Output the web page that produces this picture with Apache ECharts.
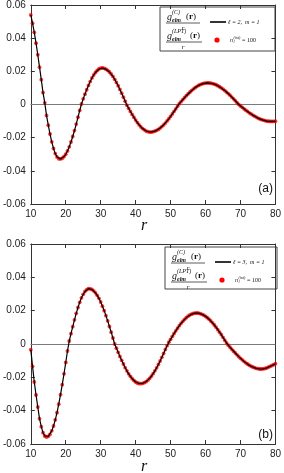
<!DOCTYPE html>
<html><head><meta charset="utf-8">
<script src="https://cdn.jsdelivr.net/npm/echarts@6/dist/echarts.min.js"></script>
<style>html,body{margin:0;padding:0;background:#fff}#c{width:284px;height:473px}</style>
</head><body><div id="c"></div>
<script>
const rValues = [10,10.5,11,11.5,12,12.5,13,13.5,14,14.5,15,15.5,16,16.5,17,17.5,18,18.5,19,19.5,20,20.5,21,21.5,22,22.5,23,23.5,24,24.5,25,25.5,26,26.5,27,27.5,28,28.5,29,29.5,30,30.5,31,31.5,32,32.5,33,33.5,34,34.5,35,35.5,36,36.5,37,37.5,38,38.5,39,39.5,40,40.5,41,41.5,42,42.5,43,43.5,44,44.5,45,45.5,46,46.5,47,47.5,48,48.5,49,49.5,50,50.5,51,51.5,52,52.5,53,53.5,54,54.5,55,55.5,56,56.5,57,57.5,58,58.5,59,59.5,60,60.5,61,61.5,62,62.5,63,63.5,64,64.5,65,65.5,66,66.5,67,67.5,68,68.5,69,69.5,70,70.5,71,71.5,72,72.5,73,73.5,74,74.5,75,75.5,76,76.5,77,77.5,78,78.5,79,79.5,80];

// panel (a): l=2, m=1
const gA = [0.054,0.049,0.0435,0.037,0.030,0.0225,0.0150,0.0072,0.0010,-0.0066,-0.0125,-0.0178,-0.0225,-0.0265,-0.0296,-0.0316,-0.0327,-0.0328,-0.0324,-0.0314,-0.0300,-0.0280,-0.0255,-0.0226,-0.0193,-0.0157,-0.0118,-0.0077,-0.0036,0.0003,0.0034,0.0062,0.0089,0.0115,0.0138,0.0160,0.0178,0.0193,0.0205,0.0214,0.0219,0.0220,0.0218,0.0213,0.0206,0.0196,0.0184,0.0169,0.0152,0.0133,0.0113,0.0091,0.0068,0.0044,0.0020,-0.0004,-0.0023,-0.0042,-0.0060,-0.0077,-0.0094,-0.0109,-0.0123,-0.0135,-0.0145,-0.0153,-0.0160,-0.0164,-0.0166,-0.0166,-0.0164,-0.0161,-0.0156,-0.0150,-0.0142,-0.0133,-0.0123,-0.0112,-0.0099,-0.0086,-0.0072,-0.0057,-0.0041,-0.0026,-0.0010,0.0005,0.0017,0.0029,0.0041,0.0053,0.0064,0.0074,0.0084,0.0093,0.0101,0.0108,0.0115,0.0120,0.0124,0.0127,0.0129,0.0130,0.0130,0.0128,0.0126,0.0123,0.0119,0.0113,0.0107,0.0100,0.0093,0.0084,0.0075,0.0066,0.0056,0.0045,0.0034,0.0023,0.0011,0.0000,-0.0009,-0.0017,-0.0026,-0.0034,-0.0042,-0.0050,-0.0057,-0.0064,-0.0070,-0.0076,-0.0082,-0.0087,-0.0091,-0.0094,-0.0097,-0.0100,-0.0101,-0.0102,-0.0102,-0.0102,-0.0101];

// panel (b): l=3, m=1
const gB = [-0.0034,-0.0134,-0.0228,-0.0306,-0.0378,-0.0448,-0.0496,-0.0532,-0.0552,-0.0558,-0.0554,-0.0542,-0.0521,-0.0492,-0.0455,-0.0412,-0.0361,-0.0304,-0.0244,-0.0179,-0.0111,-0.0042,0.0018,0.0062,0.0104,0.0145,0.0184,0.0219,0.0250,0.0277,0.0298,0.0315,0.0326,0.0332,0.0331,0.0327,0.0319,0.0307,0.0292,0.0274,0.0252,0.0227,0.0200,0.0170,0.0139,0.0105,0.0071,0.0036,0.0000,-0.0025,-0.0050,-0.0075,-0.0098,-0.0120,-0.0142,-0.0161,-0.0179,-0.0194,-0.0208,-0.0219,-0.0228,-0.0234,-0.0237,-0.0238,-0.0236,-0.0232,-0.0226,-0.0217,-0.0206,-0.0193,-0.0178,-0.0161,-0.0143,-0.0123,-0.0102,-0.0080,-0.0057,-0.0033,-0.0010,0.0011,0.0028,0.0046,0.0063,0.0079,0.0095,0.0110,0.0124,0.0136,0.0148,0.0158,0.0167,0.0174,0.0179,0.0183,0.0185,0.0186,0.0185,0.0182,0.0178,0.0173,0.0166,0.0158,0.0149,0.0138,0.0127,0.0114,0.0101,0.0086,0.0071,0.0056,0.0040,0.0023,0.0007,-0.0007,-0.0019,-0.0031,-0.0043,-0.0054,-0.0065,-0.0076,-0.0086,-0.0095,-0.0104,-0.0113,-0.0120,-0.0127,-0.0133,-0.0138,-0.0142,-0.0146,-0.0148,-0.0150,-0.0150,-0.0149,-0.0147,-0.0144,-0.0139,-0.0134,-0.0129,-0.0124,-0.0118];

const xTicks = {min: 10, max: 80, interval: 10};
const yTicks = {min: -0.06, max: 0.06, interval: 0.02};
const panelLabels = ['(a)', '(b)'];
const legendLM = ['ℓ = 2,  m = 1', 'ℓ = 3,  m = 1'];
const legendN = '= 100';
const xName = 'r';

const axisColor = '#333';
const labelFont = {fontFamily: 'Liberation Sans', fontSize: 10, color: '#222'};

function pairs(ys){ return rValues.map((r,i)=>[r, ys[i]]); }

function xAx(gi, pos, show){
  return {type:'value', gridIndex:gi, position:pos, min:xTicks.min, max:xTicks.max, interval:xTicks.interval,
    axisLine:{show:true, onZero:false, lineStyle:{color:axisColor, width:1}},
    axisTick:{show:true, inside:true, length:4, lineStyle:{color:axisColor}},
    axisLabel:{show:show, margin:5, ...labelFont},
    splitLine:{show:false}};
}
function yAx(gi, pos, show){
  return {type:'value', gridIndex:gi, position:pos, min:yTicks.min, max:yTicks.max, interval:yTicks.interval,
    axisLine:{show:true, onZero:false, lineStyle:{color:axisColor, width:1}},
    axisTick:{show:true, inside:true, length:4, lineStyle:{color:axisColor}},
    axisLabel:{show:show, margin:5, ...labelFont,
      formatter: v => Math.abs(v) < 1e-9 ? '0' : v.toFixed(2)},
    splitLine:{show:false}};
}

function seriesFor(gi, ys){
  return [
    {type:'scatter', xAxisIndex:gi*2, yAxisIndex:gi*2, data:pairs(ys), symbol:'circle', symbolSize:3.8,
      itemStyle:{color:'#ff0000'}, z:2, silent:true},
    {type:'line', xAxisIndex:gi*2, yAxisIndex:gi*2, data:pairs(ys), showSymbol:false, symbol:'none',
      lineStyle:{color:'#000', width:1.2}, z:3, silent:true,
      markLine:{silent:true, symbol:'none', label:{show:false}, z:1,
        lineStyle:{color:'#7a7a7a', width:1, type:'solid'}, data:[{yAxis:0}]}}
  ];
}

const serif = 'Liberation Serif';
function legendGraphics(bx, by, bw, bh, lmText){
  const t = (x,y,txt,size,style,weight,align)=>({type:'text', x:x, y:y, silent:true,
    style:{text:txt, fontFamily:serif, fontSize:size, fontStyle:style||'normal', fontWeight:weight||'normal',
      fill:'#111', textAlign:align||'left', textVerticalAlign:'middle'}});
  const fx = bx + 7;
  const els = [
    {type:'rect', shape:{x:bx, y:by, width:bw, height:bh}, style:{fill:'#fff', stroke:'#444', lineWidth:1}, silent:true},
    // fraction 1
    t(fx, by+10, 'g', 10, 'italic'),
    t(fx+5, by+5, '(C)', 6, 'italic'),
    t(fx+5, by+13, 'elm', 6, 'italic', 'bold'),
    t(fx+19, by+10, '(', 9), t(fx+22, by+10, 'r', 9, 'normal', 'bold'), t(fx+26, by+10, ')', 9),
    {type:'line', shape:{x1:fx-1, y1:by+16, x2:fx+33, y2:by+16}, style:{stroke:'#333', lineWidth:0.8}, silent:true},
    t(fx+16, by+21, 'r', 7, 'italic', 'normal', 'center'),
    // sample line + text
    {type:'line', shape:{x1:bx+50, y1:by+15, x2:bx+66, y2:by+15}, style:{stroke:'#000', lineWidth:1.6}, silent:true},
    t(bx+68, by+15, lmText, 6, 'italic'),
    // fraction 2
    t(fx, by+29, 'g', 10, 'italic'),
    t(fx+5, by+24, '(LPT)', 6, 'italic'),
    t(fx+5, by+32, 'elm', 6, 'italic', 'bold'),
    t(fx+23, by+29, '(', 9), t(fx+26, by+29, 'r', 9, 'normal', 'bold'), t(fx+30, by+29, ')', 9),
    {type:'line', shape:{x1:fx-1, y1:by+35, x2:fx+35, y2:by+35}, style:{stroke:'#333', lineWidth:0.8}, silent:true},
    t(fx+16, by+40, 'r', 7, 'italic', 'normal', 'center'),
    // red dot + text
    {type:'circle', shape:{cx:bx+57, cy:by+33, r:2.6}, style:{fill:'#ff0000'}, silent:true},
    t(bx+70, by+33, 'n', 6, 'italic'),
    t(bx+73.5, by+35, 'l', 4, 'italic'),
    t(bx+73.5, by+30.5, '(int)', 4, 'italic'),
    t(bx+82, by+33, legendN, 6, 'normal')
  ];
  return els;
}

const chart = echarts.init(document.getElementById('c'), null, {renderer:'canvas'});
const option = {
  backgroundColor:'#fff',
  animation:false,
  grid:[
    {left:27, right:6, top:4, height:200},
    {left:27, right:6, top:244, height:200}
  ],
  xAxis:[xAx(0,'bottom',true), xAx(0,'top',false), xAx(1,'bottom',true), xAx(1,'top',false)],
  yAxis:[yAx(0,'left',true), yAx(0,'right',false), yAx(1,'left',true), yAx(1,'right',false)],
  series:[...seriesFor(0,gA), ...seriesFor(1,gB)],
  graphic:[
    ...legendGraphics(160, 7, 115, 44, legendLM[0]),
    ...legendGraphics(165, 247, 112, 42, legendLM[1]),
    {type:'text', x:273, y:189, silent:true, style:{text:panelLabels[0], fontFamily:'Liberation Sans', fontSize:12, fill:'#111', textAlign:'right', textVerticalAlign:'middle'}},
    {type:'text', x:273, y:435, silent:true, style:{text:panelLabels[1], fontFamily:'Liberation Sans', fontSize:12, fill:'#111', textAlign:'right', textVerticalAlign:'middle'}},
    {type:'text', x:144, y:226, silent:true, style:{text:xName, fontFamily:serif, fontStyle:'italic', fontSize:16, fill:'#111', textAlign:'center', textVerticalAlign:'middle'}},
    {type:'text', x:144, y:467, silent:true, style:{text:xName, fontFamily:serif, fontStyle:'italic', fontSize:16, fill:'#111', textAlign:'center', textVerticalAlign:'middle'}}
  ]
};
chart.setOption(option);
</script>
</body></html>
